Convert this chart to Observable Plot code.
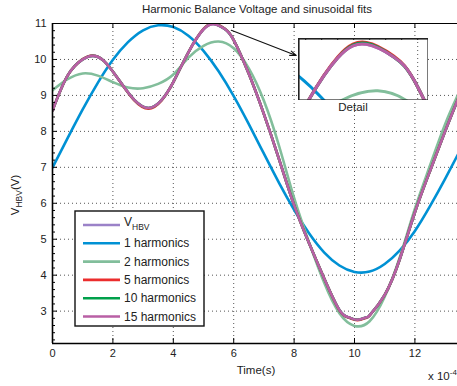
<!DOCTYPE html>
<html><head><meta charset="utf-8">
<script src="https://cdn.jsdelivr.net/npm/d3@7"></script>
<script src="https://cdn.jsdelivr.net/npm/@observablehq/plot@0.6"></script>
<style>
body{margin:0;background:#fff;}
#wrap{position:relative;width:457px;height:386px;overflow:hidden;font-family:"Liberation Sans",Arial,sans-serif;}
#wrap svg{position:absolute;left:0;top:0;overflow:hidden;}
</style></head><body><div id="wrap"></div>
<script>
// ---- data (time in units of 1e-4 s, voltage in V) ----
const tGrid = [0,0.5,1,1.5,2,2.5,3,3.5,4,4.5,5,5.5,6,6.5,7,7.5,8,8.5,9,9.5,10,10.5,11,11.5,12,12.5,13,13.5];
const h1V = [6.99,7.81,8.61,9.35,9.99,10.48,10.81,10.95,10.90,10.66,10.24,9.67,8.98,8.20,7.38,6.57,5.82,5.16,4.63,4.27,4.09,4.10,4.31,4.69,5.23,5.92,6.68,7.48];
const h2V = [9.14,9.45,9.61,9.55,9.37,9.22,9.20,9.32,9.58,10.05,10.38,10.50,10.31,9.75,8.85,7.60,6.15,4.90,3.78,2.94,2.59,2.72,3.40,4.50,5.85,7.05,8.20,9.15];
const tFine = [0,0.5,1.0,1.33,1.7,2.2,2.7,3.18,3.6,4.0,4.5,5.0,5.36,5.7,6.0,6.5,7.0,7.5,8.0,8.5,9.0,9.5,9.8,10.1,10.4,10.5,11.0,11.5,12.0,12.5,13.0,13.5];
const vhbvV = [8.58,9.55,10.0,10.1,9.96,9.43,8.88,8.65,8.86,9.37,10.2,10.84,10.98,10.85,10.54,9.6,8.48,7.23,5.95,4.88,3.9,3.03,2.83,2.76,2.83,2.88,3.45,4.45,5.75,6.9,8.0,9.05];
const h5V  = [8.58,9.55,10.01,10.11,9.96,9.43,8.87,8.63,8.85,9.37,10.2,10.85,11.0,10.86,10.54,9.6,8.48,7.23,5.95,4.88,3.9,3.02,2.82,2.75,2.82,2.88,3.45,4.45,5.75,6.9,8.0,9.05];
const h10V = [8.58,9.55,10.0,10.1,9.96,9.43,8.88,8.65,8.86,9.37,10.2,10.84,10.99,10.85,10.54,9.6,8.48,7.23,5.95,4.88,3.9,3.03,2.83,2.76,2.83,2.88,3.45,4.45,5.75,6.9,8.0,9.05];
const h15V = [8.58,9.55,10.0,10.1,9.96,9.43,8.88,8.65,8.86,9.37,10.2,10.84,10.98,10.85,10.54,9.6,8.48,7.23,5.95,4.88,3.9,3.03,2.83,2.76,2.83,2.88,3.45,4.45,5.75,6.9,8.0,9.05];

const seriesNames = ["V_HBV","1 harmonics","2 harmonics","5 harmonics","10 harmonics","15 harmonics"];
const seriesColors = ["#9b82c8","#0091d4","#82be9b","#eb2d2d","#00a04b","#b95fa5"];
const xTicks = [0,2,4,6,8,10,12];
const yTicks = [3,4,5,6,7,8,9,10,11];
const yMinor = d3.range(22,111,2).map(d=>d/10).filter(d=>!yTicks.includes(d));
const xDomain = [0, 13.41];
const yDomain = [2.1, 11];
const insetX = [4.51, 6.135];
const insetY = [10.4, 11.04];
const insetTicks = [4.6,4.8,5.0,5.2,5.4,5.6,5.8,6.0];
const arrowPts = [[5.92,10.81],[8.07,10.11]];
const titleText = "Harmonic Balance Voltage and sinusoidal fits";

const rows = (ts, vs, i) => ts.map((t,k)=>({t, v: vs[k], s: seriesNames[i]}));
const series = [rows(tFine,vhbvV,0), rows(tGrid,h1V,1), rows(tGrid,h2V,2), rows(tFine,h5V,3), rows(tFine,h10V,4), rows(tFine,h15V,5)];

const W = 457, H = 386, mL = 52, mT = 23, mB = 43, mR = 0;
const pw = W - mL - mR, ph = H - mT - mB;
const font = "'Liberation Sans', Arial, sans-serif";
const grid = {stroke:"#555", strokeOpacity:1, strokeDasharray:"1,3", strokeWidth:1};

const main = Plot.plot({
  width: W, height: H, marginLeft: mL, marginRight: mR, marginTop: mT, marginBottom: mB,
  x: {domain: xDomain, label: null},
  y: {domain: yDomain, label: null},
  style: {fontFamily: font, fontSize: "11px", color: "#222", background: "white"},
  marks: [
    Plot.gridX(xTicks, grid),
    Plot.gridY(yTicks, grid),
    ...series.map((d,i)=>Plot.line(d, {x:"t", y:"v", stroke: seriesColors[i], strokeWidth: 2.6, curve:"natural", clip:true})),
    Plot.arrow([arrowPts], {x1:d=>d[0][0], y1:d=>d[0][1], x2:d=>d[1][0], y2:d=>d[1][1], stroke:"#111", strokeWidth:1.1, headLength:9, headAngle:40}),
    Plot.tickX(xTicks, {x: d=>d, insetTop: ph-5, stroke:"#000"}),
    Plot.tickX(xTicks, {x: d=>d, insetBottom: ph-5, stroke:"#000"}),
    Plot.tickY(yTicks, {y: d=>d, insetRight: pw-5, stroke:"#000"}),
    Plot.tickY(yMinor, {y: d=>d, insetRight: pw-3, stroke:"#000"}),
    Plot.ruleX([xDomain[0]], {stroke:"#000", strokeWidth:1.6}),
    Plot.ruleY([yDomain[0]], {stroke:"#000", strokeWidth:1.6}),
    Plot.ruleY([yDomain[1]], {stroke:"#000", strokeWidth:1}),
    Plot.axisX(xTicks, {tickSize:0, tickPadding:6, fontSize:11, fill:"#222"}),
    Plot.axisY(yTicks, {tickSize:0, tickPadding:6, fontSize:11, fill:"#222"})
  ]
});
document.getElementById("wrap").appendChild(main);

const svg = d3.select(main);
const txt = (x, y, s, opts={}) => svg.append("text").attr("x",x).attr("y",y)
  .attr("font-family",font).attr("font-size",opts.size||11).attr("fill","#222")
  .attr("text-anchor",opts.anchor||"middle").text(s);
txt(257, 13, titleText, {size:11.5});
txt(256, 374, "Time(s)", {size:11.5});
const xl = txt(428, 380, "x 10", {size:11.5, anchor:"start"});
xl.append("tspan").attr("dy",-5).attr("font-size",8).text("-4");

// y label
const yl = svg.append("text").attr("transform","translate(19,195) rotate(-90)")
  .attr("font-family",font).attr("font-size",11.5).attr("fill","#222").attr("text-anchor","middle");
yl.append("tspan").text("V");
yl.append("tspan").attr("dy",3).attr("font-size",8.5).text("HBV");
yl.append("tspan").attr("dy",-3).text("(V)");

// Detail label
txt(353, 111, "Detail", {size:11.5});

// legend
const lg = svg.append("g");
lg.append("rect").attr("x",75).attr("y",211).attr("width",129).attr("height",115)
  .attr("fill","white").attr("stroke","#111").attr("stroke-width",1.4);
seriesNames.forEach((n,i)=>{
  const y = 225 + i*18.3;
  lg.append("line").attr("x1",83).attr("x2",120).attr("y1",y).attr("y2",y)
    .attr("stroke",seriesColors[i]).attr("stroke-width",2.6);
  const t = lg.append("text").attr("x",124).attr("y",y+4).attr("font-family",font)
    .attr("text-anchor","start").attr("font-size",12).attr("fill","#222");
  if (n === "V_HBV") {
    t.attr("y", y+1);
    t.append("tspan").text("V");
    t.append("tspan").attr("dy",4).attr("font-size",8.5).text("HBV");
  } else t.text(n);
});

// inset
const inset = Plot.plot({
  width: 130, height: 62, margin: 0,
  x: {domain: insetX, axis: null},
  y: {domain: insetY, axis: null},
  style: {background: "white"},
  marks: [
    Plot.frame({fill:"white"}),
    Plot.gridX([6.0], grid),
    ...series.map((d,i)=>Plot.line(d, {x:"t", y:"v", stroke: seriesColors[i], strokeWidth: 3, curve:"natural", clip:true})),
    Plot.tickX(insetTicks, {x:d=>d, insetBottom: 60, stroke:"#000"}),
    Plot.frame({stroke:"#222", strokeWidth:2.2})
  ]
});
inset.style.left = "298px"; inset.style.top = "38px";
document.getElementById("wrap").appendChild(inset);
</script></body></html>
